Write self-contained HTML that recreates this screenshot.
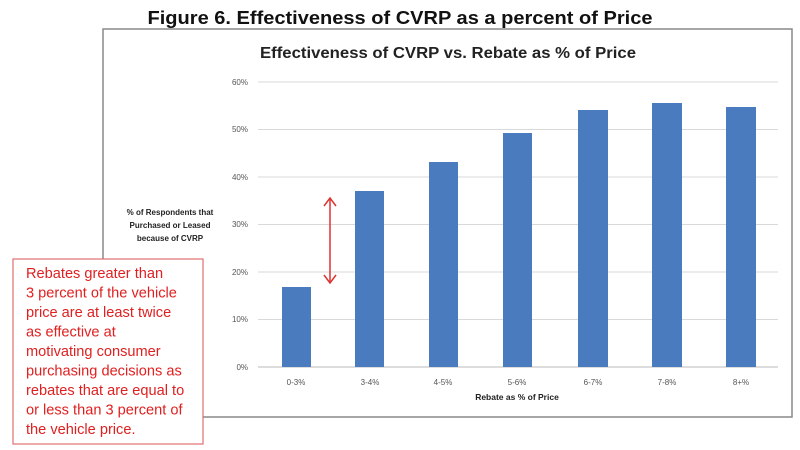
<!DOCTYPE html>
<html><head><meta charset="utf-8"><style>
body{margin:0;background:#fff;}
svg{display:block;}
</style></head><body>
<svg width="800" height="450" xmlns="http://www.w3.org/2000/svg" font-family="Liberation Sans, sans-serif">
<rect width="800" height="450" fill="#fff"/>
<text x="400" y="24" text-anchor="middle" font-size="18" font-weight="bold" fill="#111" textLength="505" lengthAdjust="spacingAndGlyphs">Figure 6. Effectiveness of CVRP as a percent of Price</text>
<rect x="103" y="29" width="689" height="388" fill="#fff" stroke="#888" stroke-width="1.5"/>
<text x="448" y="58" text-anchor="middle" font-size="16" font-weight="bold" fill="#222" textLength="376" lengthAdjust="spacingAndGlyphs">Effectiveness of CVRP vs. Rebate as % of Price</text>
<g stroke="#d9d9d9" stroke-width="1">
<line x1="258" x2="778" y1="82" y2="82"/><line x1="258" x2="778" y1="129.5" y2="129.5"/><line x1="258" x2="778" y1="177" y2="177"/><line x1="258" x2="778" y1="224.5" y2="224.5"/><line x1="258" x2="778" y1="272" y2="272"/><line x1="258" x2="778" y1="319.5" y2="319.5"/>
</g>
<line x1="258" x2="778" y1="367" y2="367" stroke="#bbb"/>
<g font-size="8" fill="#555" text-anchor="end">
<text x="248" y="85">60%</text><text x="248" y="132">50%</text><text x="248" y="180">40%</text><text x="248" y="227">30%</text><text x="248" y="275">20%</text><text x="248" y="322">10%</text><text x="248" y="370">0%</text>
</g>
<g fill="#4a7bbf">
<rect x="282" y="287" width="29" height="80"/>
<rect x="355" y="191" width="29" height="176"/>
<rect x="429" y="162" width="29" height="205"/>
<rect x="503" y="133" width="29" height="234"/>
<rect x="578" y="110" width="30" height="257"/>
<rect x="652" y="103" width="30" height="264"/>
<rect x="726" y="107" width="30" height="260"/>
</g>
<g font-size="8" fill="#555" text-anchor="middle">
<text x="296" y="385">0-3%</text><text x="370" y="385">3-4%</text><text x="443" y="385">4-5%</text><text x="517" y="385">5-6%</text><text x="593" y="385">6-7%</text><text x="667" y="385">7-8%</text><text x="741" y="385">8+%</text>
</g>
<text x="517" y="400" text-anchor="middle" font-size="8.5" font-weight="bold" fill="#222">Rebate as % of Price</text>
<g font-size="8" font-weight="bold" fill="#222" text-anchor="middle">
<text x="170" y="215">% of Respondents that</text><text x="170" y="228">Purchased or Leased</text><text x="170" y="241">because of CVRP</text>
</g>
<g stroke="#d33" stroke-width="1.5" fill="none">
<line x1="330" y1="198" x2="330" y2="283"/>
<polyline points="324,206 330,198 336,206"/>
<polyline points="324,275 330,283 336,275"/>
</g>
<rect x="13" y="259" width="190" height="185" fill="#fff" stroke="#e07070" stroke-width="1.2"/>
<g font-size="14.6" fill="#e02020">
<text x="26" y="278">Rebates greater than</text>
<text x="26" y="297.5">3 percent of the vehicle</text>
<text x="26" y="317">price are at least twice</text>
<text x="26" y="336.5">as effective at</text>
<text x="26" y="356">motivating consumer</text>
<text x="26" y="375.5">purchasing decisions as</text>
<text x="26" y="395">rebates that are equal to</text>
<text x="26" y="414.5">or less than 3 percent of</text>
<text x="26" y="434">the vehicle price.</text>
</g>
</svg>
</body></html>
